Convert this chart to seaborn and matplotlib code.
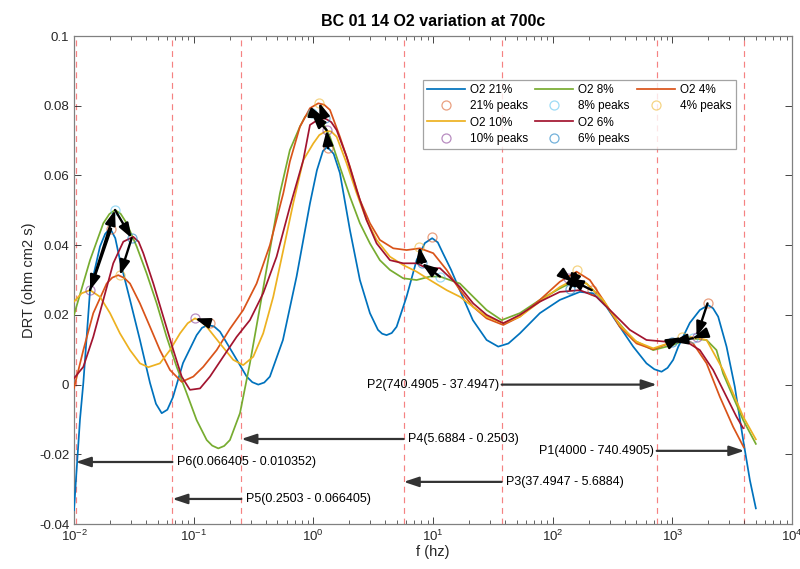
import numpy as np
import pandas as pd
import matplotlib
matplotlib.use("Agg")
import matplotlib.pyplot as plt
import seaborn as sns
from matplotlib.lines import Line2D
from matplotlib.ticker import FuncFormatter, LogLocator, NullFormatter, FixedLocator

# ---------------- data ----------------
series = ["O2 21%", "O2 8%", "O2 4%", "O2 10%", "O2 6%"]
line_colors = ["#0072BD", "#77AC30", "#D95319", "#EDB120", "#A2142F"]
x_tick_exponents = [-2, -1, 0, 1, 2, 3, 4]

# log10(f) and DRT values for each series
lf_21 = [-2.0, -1.983, -1.95, -1.922, -1.866, -1.783, -1.74, -1.699, -1.655, -1.616, -1.532,
         -1.449, -1.365, -1.315, -1.267, -1.22, -1.173, -1.089, -0.975, -0.93, -0.881, -0.83,
         -0.780, -0.672, -0.557, -0.51, -0.460, -0.41, -0.363, -0.254, -0.140, -0.028, 0.03,
         0.080, 0.116, 0.17, 0.222, 0.306, 0.389, 0.473, 0.540, 0.575, 0.612, 0.655, 0.696,
         0.779, 0.863, 0.932, 0.993, 1.04, 1.083, 1.15, 1.225, 1.333, 1.448, 1.545, 1.63,
         1.726, 1.893, 2.060, 2.227, 2.338, 2.450, 2.561, 2.673, 2.784, 2.85, 2.910, 2.96,
         3.007, 3.05, 3.146, 3.230, 3.299, 3.34, 3.383, 3.453, 3.522, 3.592, 3.648, 3.698]
drt_21 = [-0.036, -0.027, -0.010, 0.0005, 0.027, 0.0396, 0.0432, 0.0449, 0.0420, 0.0357, 0.0243,
          0.0128, 0.0005, -0.0055, -0.0082, -0.0072, -0.0036, 0.0062, 0.0142, 0.0163, 0.0171, 0.0167,
          0.0152, 0.009, 0.0023, 0.0007, 0.0, 0.0006, 0.0023, 0.0128, 0.031, 0.052, 0.0615,
          0.067, 0.0682, 0.0662, 0.0607, 0.0443, 0.030, 0.0205, 0.0157, 0.0146, 0.0142, 0.0148, 0.0166,
          0.0252, 0.0357, 0.0406, 0.042, 0.0408, 0.0377, 0.033, 0.027, 0.0185, 0.0128, 0.0109, 0.0118,
          0.0147, 0.0205, 0.0243, 0.0266, 0.0262, 0.0223, 0.0166, 0.0109, 0.0061, 0.0044, 0.0037, 0.0048,
          0.0071, 0.0109, 0.0177, 0.0214, 0.0228, 0.0219, 0.0195, 0.0109, -0.0006, -0.0159, -0.0274, -0.0355]

lf_8 = [-2.0, -1.866, -1.755, -1.705, -1.657, -1.61, -1.560, -1.476, -1.393, -1.309, -1.226,
        -1.142, -1.058, -0.975, -0.891, -0.845, -0.794, -0.745, -0.697, -0.613, -0.530, -0.446,
        -0.363, -0.279, -0.196, -0.112, -0.07, -0.028, 0.015, 0.055, 0.139, 0.222, 0.306, 0.389,
        0.473, 0.556, 0.640, 0.751, 0.863, 0.974, 1.058, 1.225, 1.336, 1.448, 1.573, 1.726,
        1.893, 2.060, 2.171, 2.283, 2.394, 2.534, 2.673, 2.840, 3.007, 3.146, 3.286, 3.369,
        3.424, 3.508, 3.592, 3.698]
drt_8 = [0.020, 0.0357, 0.0463, 0.0489, 0.0501, 0.049, 0.0463, 0.0396, 0.0319, 0.0233, 0.0137,
         0.0051, -0.0025, -0.0102, -0.0159, -0.0175, -0.0183, -0.0176, -0.0159, -0.0082, 0.0061, 0.0223,
         0.0386, 0.0549, 0.0673, 0.074, 0.0768, 0.0783, 0.0781, 0.0769, 0.0711, 0.0625, 0.0539, 0.0463,
         0.0405, 0.0357, 0.0329, 0.0305, 0.030, 0.031, 0.031, 0.029, 0.0252, 0.0214, 0.0185, 0.0205,
         0.0243, 0.0276, 0.0295, 0.029, 0.0252, 0.0185, 0.0128, 0.0099, 0.0114, 0.0133, 0.0128, 0.0099,
         0.0032, -0.0035, -0.0102, -0.017]

lf_4 = [-2.0, -1.922, -1.839, -1.727, -1.68, -1.630, -1.58, -1.532, -1.449, -1.365, -1.282,
        -1.198, -1.100, -1.003, -0.920, -0.808, -0.697, -0.586, -0.474, -0.363, -0.251, -0.196,
        -0.112, -0.028, 0.041, 0.09, 0.139, 0.222, 0.306, 0.389, 0.473, 0.556, 0.668, 0.779,
        0.891, 1.002, 1.114, 1.225, 1.336, 1.448, 1.587, 1.726, 1.893, 2.060, 2.200, 2.311,
        2.422, 2.561, 2.701, 2.840, 3.007, 3.090, 3.174, 3.286, 3.397, 3.508, 3.597]
drt_4 = [-0.001, 0.0099, 0.0205, 0.029, 0.0307, 0.0314, 0.0306, 0.029, 0.0233, 0.0166, 0.0099,
         0.0042, 0.0008, 0.0023, 0.0051, 0.0099, 0.016, 0.0214, 0.029, 0.040, 0.0549, 0.064,
         0.074, 0.0793, 0.0807, 0.0803, 0.0788, 0.0711, 0.0625, 0.053, 0.0463, 0.0415, 0.0391, 0.0386,
         0.0391, 0.0377, 0.0329, 0.0271, 0.0223, 0.019, 0.0171, 0.0195, 0.0243, 0.0295, 0.0324, 0.030,
         0.0243, 0.0166, 0.0118, 0.0101, 0.0123, 0.0133, 0.0118, 0.0061, -0.0035, -0.0121, -0.018]

lf_10 = [-2.0, -1.936, -1.866, -1.783, -1.699, -1.616, -1.532, -1.449, -1.379, -1.282, -1.198,
         -1.114, -1.05, -0.989, -0.94, -0.891, -0.780, -0.669, -0.586, -0.502, -0.419, -0.335,
         -0.251, -0.168, -0.084, 0.000, 0.05, 0.109, 0.15, 0.195, 0.278, 0.362, 0.445, 0.529,
         0.640, 0.751, 0.863, 0.974, 1.114, 1.225, 1.336, 1.448, 1.587, 1.726, 1.893, 2.060,
         2.171, 2.283, 2.422, 2.561, 2.701, 2.840, 3.007, 3.146, 3.286, 3.424, 3.508, 3.592, 3.698]
drt_10 = [0.0238, 0.0262, 0.0271, 0.0252, 0.0205, 0.0147, 0.0099, 0.0061, 0.005, 0.0061, 0.0099,
          0.0147, 0.0176, 0.019, 0.0182, 0.0166, 0.0118, 0.0071, 0.0056, 0.008, 0.0147, 0.0252,
          0.0386, 0.052, 0.0644, 0.0692, 0.0716, 0.0728, 0.0726, 0.0711, 0.0635, 0.0549, 0.0472, 0.0415,
          0.0367, 0.0343, 0.0324, 0.030, 0.0271, 0.0252, 0.0223, 0.0195, 0.0176, 0.0195, 0.0238, 0.028,
          0.030, 0.029, 0.0243, 0.0171, 0.0123, 0.0104, 0.0123, 0.0137, 0.0128, 0.0042, -0.0025, -0.0092,
          -0.0157]

lf_6 = [-2.0, -1.922, -1.839, -1.755, -1.672, -1.588, -1.505, -1.46, -1.421, -1.337, -1.254,
        -1.170, -1.100, -1.031, -0.947, -0.864, -0.753, -0.641, -0.530, -0.419, -0.307, -0.196,
        -0.084, -0.028, 0.03, 0.097, 0.15, 0.195, 0.278, 0.362, 0.445, 0.529, 0.640, 0.751,
        0.863, 0.947, 1.058, 1.225, 1.336, 1.448, 1.587, 1.726, 1.893, 2.060, 2.227, 2.366,
        2.505, 2.645, 2.784, 2.951, 3.118, 3.230, 3.341, 3.453, 3.536, 3.592]
drt_6 = [0.0018, 0.0051, 0.0137, 0.0243, 0.0348, 0.041, 0.0424, 0.041, 0.0377, 0.029, 0.0195,
         0.0099, 0.0023, -0.0015, -0.0011, 0.0023, 0.008, 0.0137, 0.0185, 0.0262, 0.0367, 0.051,
         0.0644, 0.0745, 0.0758, 0.0764, 0.0753, 0.073, 0.0654, 0.0558, 0.0472, 0.0405, 0.0357, 0.0348,
         0.0348, 0.0334, 0.0334, 0.028, 0.0233, 0.020, 0.0176, 0.020, 0.0238, 0.0266, 0.0271, 0.0252,
         0.0205, 0.0157, 0.0128, 0.0123, 0.0123, 0.0099, 0.0042, -0.0035, -0.0092, -0.0125]

# peaks (log10 f, DRT)
peak_names = ["21% peaks", "8% peaks", "4% peaks", "10% peaks", "6% peaks"]
peak_colors = ["#D95319", "#4DBEEE", "#EDB120", "#7E2F8E", "#0072BD"]
peaks_21_lf = [-1.69, -0.864, 0.124, 0.988, 2.327, 3.294]
peaks_21_y = [0.0447, 0.0176, 0.0678, 0.0423, 0.0271, 0.0233]
peaks_8_lf = [-1.657, -0.014, 1.058, 2.169, 3.171]
peaks_8_y = [0.0501, 0.0778, 0.031, 0.0294, 0.0133]
peaks_4_lf = [-1.616, 0.049, 0.885, 2.200, 3.077]
peaks_4_y = [0.0314, 0.0809, 0.0396, 0.0329, 0.0136]
peaks_10_lf = [-1.866, -0.989, 0.111, 2.129, 3.202]
peaks_10_y = [0.0271, 0.019, 0.073, 0.0305, 0.0137]
peaks_6_lf = [-1.518, 0.097, 0.905, 2.144, 3.0]
peaks_6_y = [0.042, 0.0764, 0.0348, 0.0273, 0.0123]

# peak-shift arrows: chains of (peak set, index)
arrow_chains = [
    [("21", 0), ("10", 0), ("8", 0), ("6", 0), ("4", 0)],
    [("21", 1), ("10", 1)],
    [("21", 2), ("10", 2), ("8", 1), ("6", 1), ("4", 1)],
    [("8", 2), ("6", 2), ("4", 2)],
    [("21", 4), ("10", 3), ("8", 3), ("6", 3), ("4", 3)],
    [("21", 5), ("10", 4), ("8", 4), ("6", 4), ("4", 4)],
]

# region boundaries and labelled arrows
bounds = [4000, 740.4905, 37.4947, 5.6884, 0.2503, 0.066405, 0.010352]
region_labels = ["P1(4000 - 740.4905)", "P2(740.4905 - 37.4947)", "P3(37.4947 - 5.6884)",
                 "P4(5.6884 - 0.2503)", "P5(0.2503 - 0.066405)", "P6(0.066405 - 0.010352)"]
region_tail = [740.4905, 37.4947, 37.4947, 5.6884, 0.2503, 0.066405]
region_head = [4000, 740.4905, 5.6884, 0.2503, 0.066405, 0.010352]
region_y = [-0.019, 0.0, -0.0279, -0.0156, -0.0328, -0.0222]

# ---------------- plotting ----------------
plt.rcParams["font.family"] = ["Liberation Sans", "DejaVu Sans"]
plt.rcParams["mathtext.default"] = "regular"

fig = plt.figure(figsize=(8.0, 5.69), dpi=100)
ax = fig.add_axes([0.0925, 0.079, 0.8975, 0.8577])

frames = []
for name, lf, y in zip(series,
                       [lf_21, lf_8, lf_4, lf_10, lf_6],
                       [drt_21, drt_8, drt_4, drt_10, drt_6]):
    frames.append(pd.DataFrame({"f": 10 ** np.asarray(lf), "DRT": y, "series": name}))
df = pd.concat(frames, ignore_index=True)

ax.set_xscale("log")

# vertical dashed region lines
for b in bounds:
    ax.axvline(b, color="#f58282", lw=0.85, ls=(0, (5, 4)), zorder=1)

sns.lineplot(data=df, x="f", y="DRT", hue="series", hue_order=series,
             palette=dict(zip(series, line_colors)), estimator=None, sort=False,
             legend=False, linewidth=1.25, ax=ax, zorder=3)

peak_sets = {
    "21": (peaks_21_lf, peaks_21_y), "8": (peaks_8_lf, peaks_8_y),
    "4": (peaks_4_lf, peaks_4_y), "10": (peaks_10_lf, peaks_10_y),
    "6": (peaks_6_lf, peaks_6_y),
}
for key, col in zip(["21", "8", "4", "10", "6"], peak_colors):
    lf, y = peak_sets[key]
    ax.plot(10 ** np.asarray(lf), y, ls="none", marker="o", ms=6.5, mfc="none",
            mec=col, mew=0.9, alpha=0.55, zorder=4)

# peak-shift arrows
for chain in arrow_chains:
    for (k0, i0), (k1, i1) in zip(chain[:-1], chain[1:]):
        x0 = 10 ** peak_sets[k0][0][i0]
        y0 = peak_sets[k0][1][i0]
        x1 = 10 ** peak_sets[k1][0][i1]
        y1 = peak_sets[k1][1][i1]
        ax.annotate("", xy=(x1, y1), xytext=(x0, y0),
                    arrowprops=dict(arrowstyle="-|>,head_length=0.8,head_width=0.28",
                                    color="black", lw=1.7, shrinkA=0, shrinkB=0,
                                    mutation_scale=11), zorder=6)

# region arrows + labels
for lab, xt, xh, yy in zip(region_labels, region_tail, region_head, region_y):
    ax.annotate("", xy=(xh, yy), xytext=(xt, yy),
                arrowprops=dict(arrowstyle="-|>,head_length=0.9,head_width=0.3",
                                color="#333333", lw=1.6, shrinkA=0, shrinkB=0,
                                mutation_scale=10), zorder=5)
    if xh > xt:
        ax.annotate(lab, xy=(xt, yy), xytext=(-2, 0), textcoords="offset points",
                    ha="right", va="center", fontsize=9, zorder=7)
    else:
        ax.annotate(lab, xy=(xt, yy), xytext=(3, 0), textcoords="offset points",
                    ha="left", va="center", fontsize=9, zorder=7)

ax.set_xlim(1e-2, 1e4)
ax.set_ylim(-0.04, 0.1)
ax.set_yticks(np.round(np.arange(-0.04, 0.1001, 0.02), 2))
ax.yaxis.set_major_formatter(FuncFormatter(lambda v, _: "%g" % round(v, 4)))
ax.xaxis.set_major_locator(FixedLocator([10.0 ** e for e in x_tick_exponents]))
ax.xaxis.set_minor_locator(LogLocator(base=10, subs=np.arange(2, 10), numticks=20))
ax.xaxis.set_minor_formatter(NullFormatter())
ax.xaxis.set_major_formatter(FuncFormatter(lambda v, _: r"$10^{%d}$" % int(round(np.log10(v)))))
ax.tick_params(which="both", direction="in", top=True, right=True, colors="#262626",
               labelsize=9.5)
ax.tick_params(which="major", length=5, width=0.6)
ax.tick_params(which="minor", length=2.8, width=0.5)
for s in ax.spines.values():
    s.set_color("#808080")
    s.set_linewidth(0.9)

ax.set_xlabel("f (hz)", fontsize=10.5, color="#262626", labelpad=1)
ax.set_ylabel("DRT (ohm cm2 s)", fontsize=10.5, color="#262626", labelpad=2)
ax.set_title("BC 01 14 O2 variation at 700c", fontsize=11.5, fontweight="bold", pad=7)

# legend (MATLAB-like row layout with 3 columns)
def lh(c):
    return Line2D([], [], color=c, lw=1.25)

def mh(c):
    return Line2D([], [], ls="none", marker="o", ms=6.5, mfc="none", mec=c, mew=0.9, alpha=0.55)

blank = Line2D([], [], ls="none", marker=None)
handles = [lh(line_colors[0]), mh(peak_colors[0]), lh(line_colors[3]), mh(peak_colors[3]),
           lh(line_colors[1]), mh(peak_colors[1]), lh(line_colors[4]), mh(peak_colors[4]),
           lh(line_colors[2]), mh(peak_colors[2]), blank, blank]
labels = [series[0], peak_names[0], series[3], peak_names[3],
          series[1], peak_names[1], series[4], peak_names[4],
          series[2], peak_names[2], "", ""]
leg = ax.legend(handles, labels, ncol=3, loc="upper left", bbox_to_anchor=(0.486, 0.91),
                fontsize=8.5, frameon=True, fancybox=False, edgecolor="#8c8c8c",
                handlelength=3.2, handletextpad=0.45, columnspacing=0.6,
                labelspacing=0.36, borderpad=0.35, borderaxespad=0.0)
leg.get_frame().set_linewidth(0.9)
leg.set_zorder(10)

fig.savefig("out.png", dpi=100)
